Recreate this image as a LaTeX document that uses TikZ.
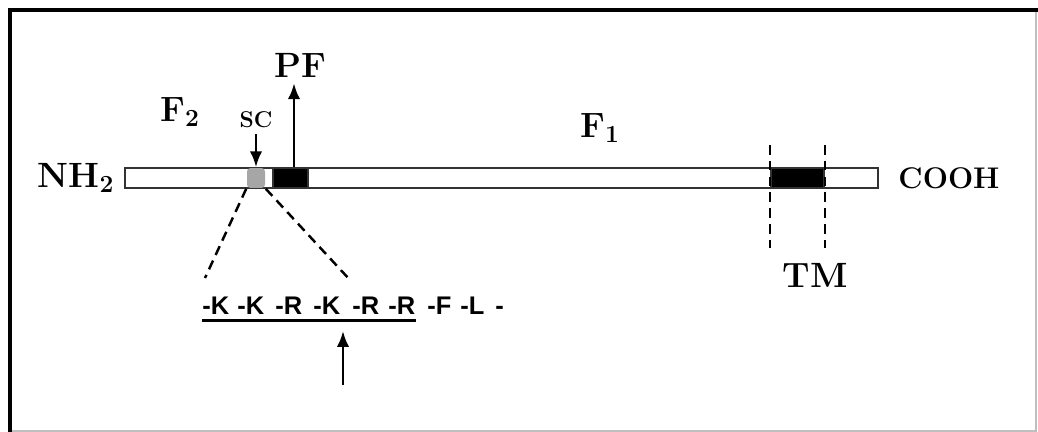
\documentclass[tikz,border=0pt]{standalone}
\usepackage{fontspec}
\usetikzlibrary{arrows.meta}
\newfontfamily\seqfont{Liberation Sans}
\tikzstyle{strand}=[rectangle,
                    draw=black!80,
                    line width=0.9pt,
                    minimum height=0.4cm,
                    inner sep=0pt]
\tikzstyle{darkbox}=[strand, fill=black]
\tikzstyle{spot}=[strand, draw=none, fill=black!35, rounded corners=2pt]
\tikzstyle{heading}=[font=\bfseries\fontsize{20}{24}\selectfont]
\tikzstyle{terminus}=[font=\bfseries\fontsize{17}{20}\selectfont]
\tikzstyle{minor}=[font=\bfseries\fontsize{13}{16}\selectfont]
\tikzstyle{residue}=[font=\seqfont\bfseries\fontsize{14.5}{17}\selectfont, anchor=base west, inner sep=0pt]
\tikzstyle{cutline}=[dash pattern=on 5.5pt off 3.5pt, line width=1.4pt]
\tikzstyle{pointer}=[-{Latex[length=9pt, width=7pt]}, line width=1.5pt]

\begin{document}
\begin{tikzpicture}[x=0.02cm, y=-0.02cm]
    \useasboundingbox (0,0) rectangle (1038,432);
    \draw[black!25, line width=0.6pt] (1036,10) -- (1036,431) -- (10,431);
    \draw[line width=2.3pt] (10,432) -- (10,10) -- (1038,10);

    \node at (501.5, 178) (bar)     [strand, minimum width=15.06cm] {};
    \node at (256.0, 178) (sc_site) [spot, minimum width=0.36cm]    {};
    \node at (290.5, 178) (pf_box)  [darkbox, minimum width=0.7cm]  {};
    \node at (797.5, 178) (tm_box)  [darkbox, minimum width=1.06cm] {};

    \node at ( 76, 178) (nh2)  [heading]  {NH\textsubscript{2}};
    \node at (949, 178) (cooh) [terminus] {COOH};
    \node at (180, 112) (f2)   [heading]  {F\textsubscript{2}};
    \node at (600, 128) (f1)   [heading]  {F\textsubscript{1}};
    \node at (300,  65) (pf)   [heading]  {PF};
    \node at (256, 120) (sc)   [minor]    {SC};
    \node at (815, 275) (tm)   [heading]  {TM};

    \foreach \x/\aa [count=\i] in {202/-K, 237/-K, 275/-R, 313/-K, 352/-R, 388/-R, 427/-F, 460/-L, 495/-}
        \node at (\x, 315) (res\i) [residue] {\aa};

    \coordinate (seq_left)     at (205, 278);
    \coordinate (seq_right)    at (350, 280);
    \coordinate (tm_top)       at (0, 145);
    \coordinate (tm_bottom)    at (0, 248);
    \coordinate (cleave_tail)  at (343, 385);
    \coordinate (cleave_head)  at (343, 331);

    \draw[line width=1.6pt] ([yshift=-3pt]res1.base west) -- ([yshift=-3pt]res6.base east);
    \draw[cutline] (sc_site.south west) -- (seq_left);
    \draw[cutline] (sc_site.south east) -- (seq_right);
    \draw[cutline] (tm_box.west |- tm_top) -- (tm_box.west |- tm_bottom);
    \draw[cutline] (tm_box.east |- tm_top) -- (tm_box.east |- tm_bottom);

    \draw[pointer] (sc)           -- (sc_site);
    \draw[pointer] ([xshift=2pt]pf_box.north) -- ([xshift=2pt]pf_box.north |- pf.south);
    \draw[pointer] (cleave_tail)  -- (cleave_head);
\end{tikzpicture}
\end{document}
